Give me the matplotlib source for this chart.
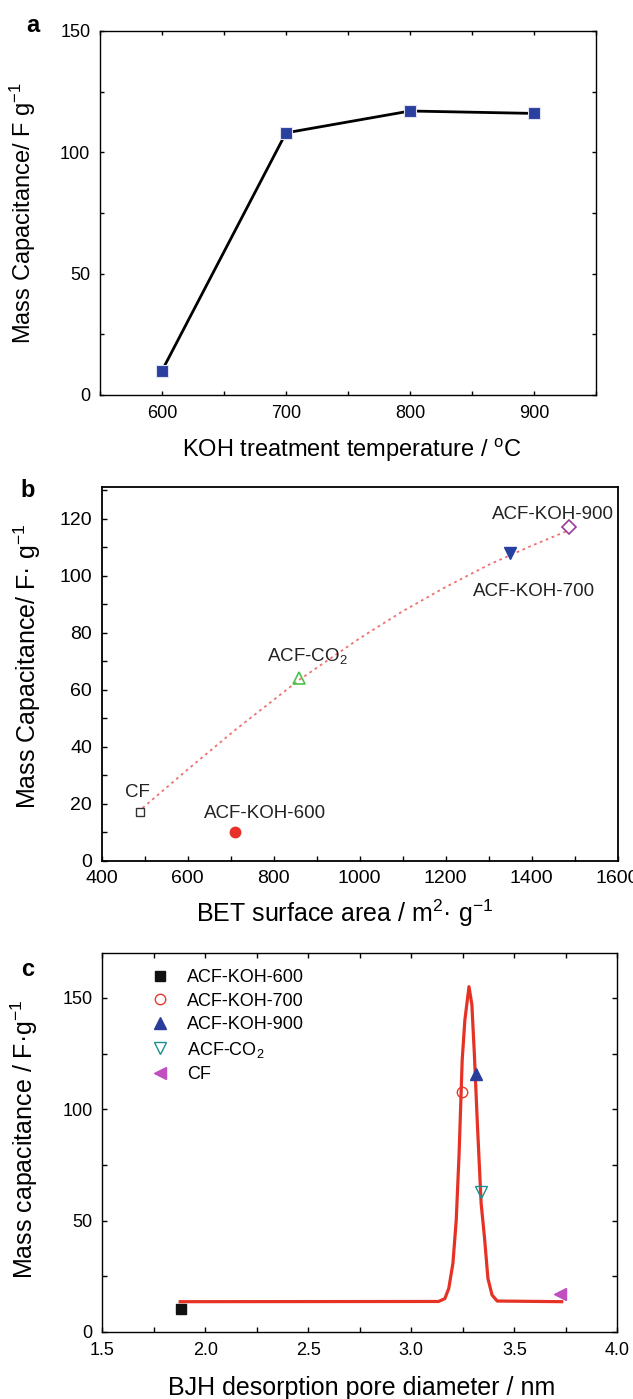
import matplotlib
matplotlib.use("Agg")
import matplotlib.pyplot as plt
from matplotlib.ticker import MultipleLocator

plt.rcParams['font.family'] = ['Liberation Sans', 'DejaVu Sans']
plt.rcParams['mathtext.default'] = 'regular'

# (a) capacitance vs KOH treatment temperature
temp = [600, 700, 800, 900]
cap_temp = [10, 108, 117, 116]

# (b) capacitance vs BET surface area
bet_names = ['CF', 'ACF-KOH-600', 'ACF-CO$_2$', 'ACF-KOH-700', 'ACF-KOH-900']
bet_area = [490, 710, 859, 1350, 1488]
bet_cap = [17, 10, 64, 108, 117]
fit_area = [495, 600, 710, 860, 1000, 1100, 1200, 1300, 1400, 1480]
fit_cap = [18.5, 32, 45.8, 63.5, 78, 87.5, 96, 103.8, 110.5, 115.5]

# (c) capacitance vs BJH pore diameter
pore_names = ['ACF-KOH-600', 'ACF-KOH-700', 'ACF-KOH-900', 'ACF-CO$_2$', 'CF']
pore_d = [1.88, 3.247, 3.313, 3.338, 3.72]
pore_cap = [10.2, 107.7, 116, 62.9, 17]
curve_d = [1.878, 3.133, 3.163, 3.182, 3.202, 3.218, 3.232, 3.247, 3.26, 3.28,
           3.294, 3.306, 3.32, 3.339, 3.355, 3.372, 3.392, 3.417, 3.73]
curve_cap = [13.6, 13.7, 15, 19.6, 30.8, 50, 80, 122, 140, 155,
             147, 125, 95, 57.7, 42.7, 24, 16.6, 13.9, 13.6]

fig = plt.figure(figsize=(6.33, 13.99), dpi=100)

# ---------- a ----------
ax = fig.add_axes([0.158, 0.7177, 0.7836, 0.2602])
ax.plot(temp, cap_temp, color='black', lw=2.0, marker='s', ms=8.5,
        mfc='#2b3f9e', mec='#dfe2f2', mew=0.8)
ax.set_xlim(550, 950)
ax.set_ylim(0, 150)
ax.xaxis.set_major_locator(MultipleLocator(100))
ax.xaxis.set_minor_locator(MultipleLocator(50))
ax.yaxis.set_major_locator(MultipleLocator(50))
ax.yaxis.set_minor_locator(MultipleLocator(25))
ax.tick_params(which='both', direction='in', top=True, right=True, length=3, width=1,
               labelsize=13, pad=7)
for s in ax.spines.values():
    s.set_linewidth(1.0)
ax.set_xlabel('KOH treatment temperature / $^{o}$C', fontsize=17)
ax.set_ylabel('Mass Capacitance/ F g$^{-1}$', fontsize=17)
ax.xaxis.set_label_coords(0.507, -0.115)
ax.yaxis.set_label_coords(-0.125, 0.5)
fig.text(33 / 633, 1 - 25 / 1399, 'a', fontsize=17, fontweight='bold', ha='center', va='center')

# ---------- b ----------
ax = fig.add_axes([0.1607, 0.3848, 0.815, 0.2669])
ax.plot(fit_area, fit_cap, color='#f07070', lw=1.3, ls=(0, (1.5, 2)))
ax.plot(bet_area[0], bet_cap[0], ls='none', marker='s', ms=5.5, mfc='none', mec='#333333', mew=1)
ax.plot(bet_area[1], bet_cap[1], ls='none', marker='o', ms=7.5, color='#e8312a')
ax.plot(bet_area[2], bet_cap[2], ls='none', marker='^', ms=8, mfc='none', mec='#4cc04c', mew=1.2)
ax.plot(bet_area[3], bet_cap[3], ls='none', marker='v', ms=8.5, color='#2540a0')
ax.plot(bet_area[4], bet_cap[4], ls='none', marker='D', ms=7, mfc='none', mec='#9b3a9b', mew=1.2)
label_pos = [(482, 22.2), (780, 14.9), (878, 70), (1405, 93), (1450, 119.8)]
for name, (lx, ly) in zip(bet_names, label_pos):
    ax.text(lx, ly, name, fontsize=13.5, ha='center', va='baseline', color='#222222')
ax.set_xlim(400, 1600)
ax.set_ylim(0, 131)
ax.xaxis.set_major_locator(MultipleLocator(200))
ax.xaxis.set_minor_locator(MultipleLocator(100))
ax.yaxis.set_major_locator(MultipleLocator(20))
ax.yaxis.set_minor_locator(MultipleLocator(10))
ax.tick_params(which='both', direction='in', length=3.5, width=1, labelsize=14, pad=7)
for s in ax.spines.values():
    s.set_linewidth(1.3)
ax.set_xlabel('BET surface area / m$^{2}$· g$^{-1}$', fontsize=18)
ax.set_ylabel('Mass Capacitance/ F· g$^{-1}$', fontsize=18)
ax.xaxis.set_label_coords(0.47, -0.10)
ax.yaxis.set_label_coords(-0.114, 0.52)
fig.text(28 / 633, 1 - 490 / 1399, 'b', fontsize=17, fontweight='bold', ha='center', va='center')

# ---------- c ----------
ax = fig.add_axes([0.1616, 0.0479, 0.8136, 0.2707])
ax.plot(curve_d, curve_cap, color='#e53225', lw=2.3)
styles = [
    dict(marker='s', ms=6.5, color='#111111'),
    dict(marker='o', ms=7.5, mfc='none', mec='#e8372c', mew=1),
    dict(marker='^', ms=8.5, color='#2a3d9a'),
    dict(marker='v', ms=8.5, mfc='none', mec='#1c9090', mew=1),
    dict(marker='<', ms=8.5, color='#c050c0'),
]
for name, d, c, st in zip(pore_names, pore_d, pore_cap, styles):
    ax.plot(d, c, ls='none', label=name, **st)
ax.legend(loc='upper left', bbox_to_anchor=(0.0946, 0.958), frameon=False, fontsize=13,
          handlelength=1.0, handletextpad=1.0, labelspacing=0.36, borderaxespad=0,
          borderpad=0, numpoints=1)
ax.set_xlim(1.5, 4.0)
ax.set_ylim(0, 170)
ax.xaxis.set_major_locator(MultipleLocator(0.5))
ax.xaxis.set_minor_locator(MultipleLocator(0.25))
ax.yaxis.set_major_locator(MultipleLocator(50))
ax.yaxis.set_minor_locator(MultipleLocator(25))
ax.tick_params(which='both', direction='in', top=True, right=True, length=3.5, width=1,
               labelsize=13, pad=7)
for s in ax.spines.values():
    s.set_linewidth(1.0)
ax.set_xlabel('BJH desorption pore diameter / nm', fontsize=18)
ax.set_ylabel('Mass capacitance / F·g$^{-1}$', fontsize=18)
ax.xaxis.set_label_coords(0.503, -0.116)
ax.yaxis.set_label_coords(-0.12, 0.51)
fig.text(28 / 633, 1 - 970 / 1399, 'c', fontsize=17, fontweight='bold', ha='center', va='center')

fig.savefig('out.png', dpi=100)
